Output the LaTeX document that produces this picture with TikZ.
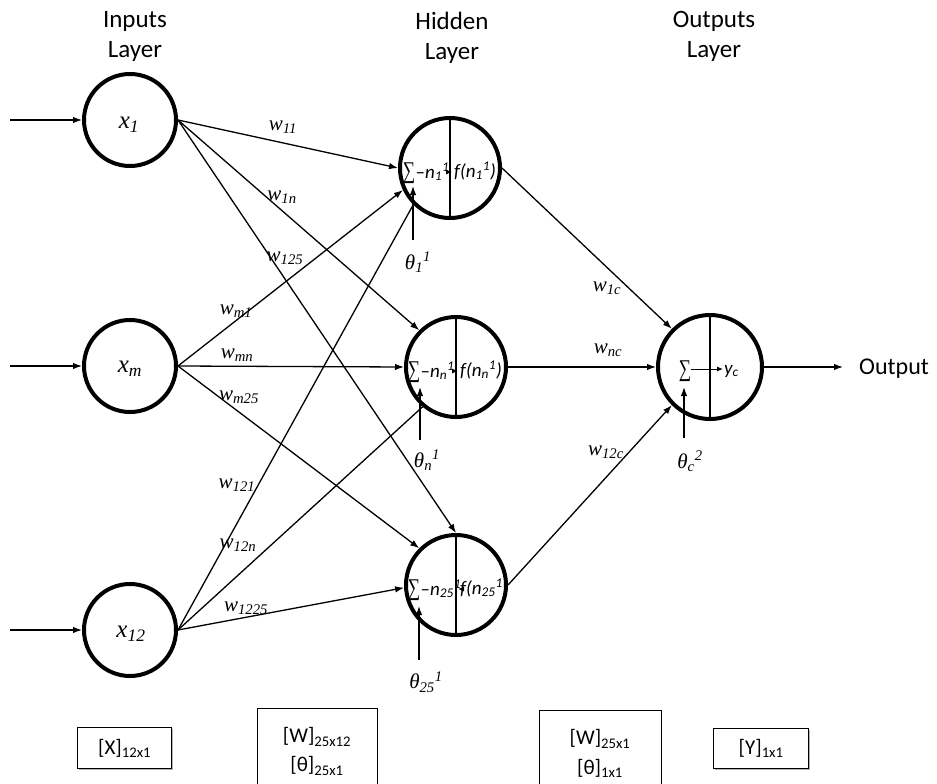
\documentclass[tikz,border=0pt]{standalone}
\usepackage{fontspec}
\usepackage{graphicx}
\setmainfont{Carlito}
\newfontfamily\tms{Liberation Serif}
\usetikzlibrary{arrows.meta,calc}
\newcommand{\sbsp}[3]{#1\textsubscript{#2}\textsuperscript{#3}}
\newcommand{\msum}{\scalebox{0.72}[1]{\tms\fontsize{24}{24}\selectfont ∑}}
\begin{document}
\begin{tikzpicture}[x=1pt,y=-1pt,
  conn/.style={line width=1.3pt},
  arr/.style={conn,-{Latex[length=9pt,width=6.5pt]}},
  sarr/.style={line width=1pt,-{Latex[length=6pt,width=5pt]}},
  inp/.style={circle,draw,line width=4pt,minimum size=92pt,inner sep=0pt},
  xlab/.style={font=\tms\itshape\fontsize{25}{27}\selectfont,inner sep=0pt},
  hid/.style={circle,draw,line width=4pt,minimum size=100pt,inner sep=0pt},
  outn/.style={circle,draw,line width=4pt,minimum size=104pt,inner sep=0pt},
  wlab/.style={font=\tms\itshape\fontsize{21}{23}\selectfont,inner sep=0pt},
  thlab/.style={font=\tms\itshape\fontsize{21}{23}\selectfont,inner sep=0pt},
  inr/.style={font=\itshape\fontsize{19}{21}\selectfont,inner sep=0pt},
  sumf/.style={inner sep=0pt},
  head/.style={font=\fontsize{25}{30}\selectfont,align=center,inner sep=0pt},
  mbox/.style={draw,line width=1.2pt,inner sep=0pt},
  btext/.style={font=\fontsize{21}{24}\selectfont,inner sep=0pt},
  divl/.style={line width=1.3pt}
]
\useasboundingbox (0,0) rectangle (937,784);
\clip (0,0) rectangle (937,784);

% headings
\node[head] (hin) at (135,36) {Inputs\\Layer};
\node[head] (hhid) at (452,38) {Hidden\\Layer};
\node[head] (hout) at (714,36) {Outputs\\Layer};

% input neurons
\node[inp] (x1) at (130,120) {};
\node[inp] (xm) at (130,366) {};
\node[inp] (x12) at (130,630) {};
\node[xlab] (x1t) at (129,125) {x\textsubscript{1}};
\node[xlab] (xmt) at (130,369) {x\textsubscript{m}};
\node[xlab] (x12t) at (131,634) {x\textsubscript{12}};

% hidden neurons
\node[hid] (h1) at (450,168) {};
\node[hid] (h2) at (456,367) {};
\node[hid] (h3) at (456,585) {};

% output neuron
\node[outn] (o) at (710,367) {};

% vertical dividers
\draw[divl] (h1.north) -- (h1.south);
\draw[divl] (h2.north) -- (h2.south);
\draw[divl] (h3.north) -- (h3.south);
\draw[divl] (o.north) -- (o.south);

% input arrows
\coordinate (i1) at (10,120);
\coordinate (im) at (10,366);
\coordinate (i12) at (10,630);
\draw[arr] (i1) -- (x1.west);
\draw[arr] (im) -- (xm.west);
\draw[arr] (i12) -- (x12.west);

% input -> hidden connections
\draw[arr] (x1.east) -- (h1.west);
\draw[arr] (x1.east) -- (h2.135);
\draw[arr] (x1.east) -- (h3.north);
\draw[arr] (xm.east) -- (h1.205);
\draw[arr] (xm.east) -- (h2.west);
\draw[arr] (xm.east) -- (h3.135);
\draw[conn] (x12.east) -- (h1.225);
\draw[conn] (x12.east) -- (h2.230);
\draw[arr] (x12.east) -- (h3.183);

% hidden -> output
\draw[arr] (h1.east) -- (o.135);
\draw[arr] (h2.east) -- (o.west);
\draw[arr] (h3.east) -- (o.225);

% output arrow
\coordinate (oend) at (843,367);
\draw[arr] (o.east) -- (oend);
\node[font=\fontsize{24}{26}\selectfont,anchor=west,inner sep=0pt] (otxt) at (859,369) {Output};

% weight labels
\node[wlab] (w11) at (283,127) {w\textsubscript{11}};
\node[wlab] (w1n) at (282,197) {w\textsubscript{1n}};
\node[wlab] (w125) at (285,258) {w\textsubscript{125}};
\node[wlab] (wm1) at (236,311) {w\textsubscript{m1}};
\node[wlab] (wmn) at (237,355) {w\textsubscript{mn}};
\node[wlab] (wm25) at (239,397) {w\textsubscript{m25}};
\node[wlab] (w121) at (237,485) {w\textsubscript{121}};
\node[wlab] (w12n) at (238,545) {w\textsubscript{12n}};
\node[wlab] (w1225) at (246,608) {w\textsubscript{1225}};
\node[wlab] (w1c) at (607,288) {w\textsubscript{1c}};
\node[wlab] (wnc) at (608,350) {w\textsubscript{nc}};
\node[wlab] (w12c) at (606,452) {w\textsubscript{12c}};

% hidden 1 contents
\node[sumf] (s1) at (409,173) {\msum};
\node[inr,anchor=west] (n1) at ($(s1.east)+(0,-1)$) {\upshape–\itshape\sbsp{n}{1}{1}};
\coordinate (t1) at ($(h1.center)+(2,4)$);
\draw[sarr] (n1.east) -- (t1);
\node[inr,anchor=west] (f1) at ($(h1.center)+(4,3)$) {f(\sbsp{n}{1}{1})};

% hidden 2 contents
\node[sumf] (s2) at (414,372) {\msum};
\node[inr,anchor=west] (n2) at ($(s2.east)+(0,-1)$) {\upshape–\itshape\sbsp{n}{n}{1}};
\coordinate (t2) at ($(h2.center)+(2,4)$);
\draw[sarr] (n2.east) -- (t2);
\node[inr,anchor=west] (f2) at ($(h2.center)+(4,3)$) {f(\sbsp{n}{n}{1})};

% hidden 3 contents
\node[sumf] (s3) at (414,590) {\msum};
\node[inr,anchor=west] (n3) at ($(s3.east)+(0,-1)$) {\upshape–\itshape\sbsp{n}{25}{1}};
\coordinate (t3) at ($(h3.center)+(2,4)$);
\draw[sarr] (n3.east) -- (t3);
\node[inr,anchor=west] (f3) at ($(h3.center)+(4,3)$) {f(\sbsp{n}{25}{1}};

% output contents
\node[sumf] (s4) at (685,371) {\msum};
\coordinate (t4) at (723,369);
\draw[sarr] ($(s4.east)+(0,-2)$) -- (t4);
\node[inr,anchor=west] (yc) at (724,371) {y\textsubscript{c}};

% bias arrows and labels
\coordinate (b1s) at (413,240); \coordinate (b1e) at (413,186);
\draw[arr] (b1s) -- (b1e);
\node[thlab] (th1) at (418,262) {\sbsp{θ}{1}{1}};
\coordinate (b2s) at (420,440); \coordinate (b2e) at (420,387);
\draw[arr] (b2s) -- (b2e);
\node[thlab] (th2) at (427,460) {\sbsp{θ}{n}{1}};
\coordinate (b3s) at (419,660); \coordinate (b3e) at (419,606);
\draw[arr] (b3s) -- (b3e);
\node[thlab] (th3) at (426,682) {\sbsp{θ}{25}{1}};
\coordinate (b4s) at (684,438); \coordinate (b4e) at (684,387);
\draw[arr] (b4s) -- (b4e);
\node[thlab] (th4) at (690,461) {\sbsp{θ}{c}{2}};

% bottom boxes
\draw[gray!60,line width=1.5pt] (79,769.5) -- (172.5,769.5) -- (172.5,729);
\node[mbox,anchor=north west,minimum width=94pt,minimum height=41pt] (bx) at (77,727) {};
\node[btext] (bxt) at (bx.center) {[X]\textsubscript{12x1}};

\node[mbox,anchor=north west,minimum width=120pt,minimum height=100pt] (bw1) at (257,708) {};
\node[btext] (bw1a) at (317,737) {[W]\textsubscript{25x12}};
\node[btext] (bw1b) at (317,766) {[θ]\textsubscript{25x1}};

\node[mbox,anchor=north west,minimum width=122pt,minimum height=100pt] (bw2) at (539,710) {};
\node[btext] (bw2a) at (600,739) {[W]\textsubscript{25x1}};
\node[btext] (bw2b) at (600,768) {[θ]\textsubscript{1x1}};

\draw[gray!60,line width=1.5pt] (715,769.5) -- (809.5,769.5) -- (809.5,730);
\node[mbox,anchor=north west,minimum width=95pt,minimum height=40pt] (by) at (713,728) {};
\node[btext] (byt) at (by.center) {[Y]\textsubscript{1x1}};
\end{tikzpicture}
\end{document}
